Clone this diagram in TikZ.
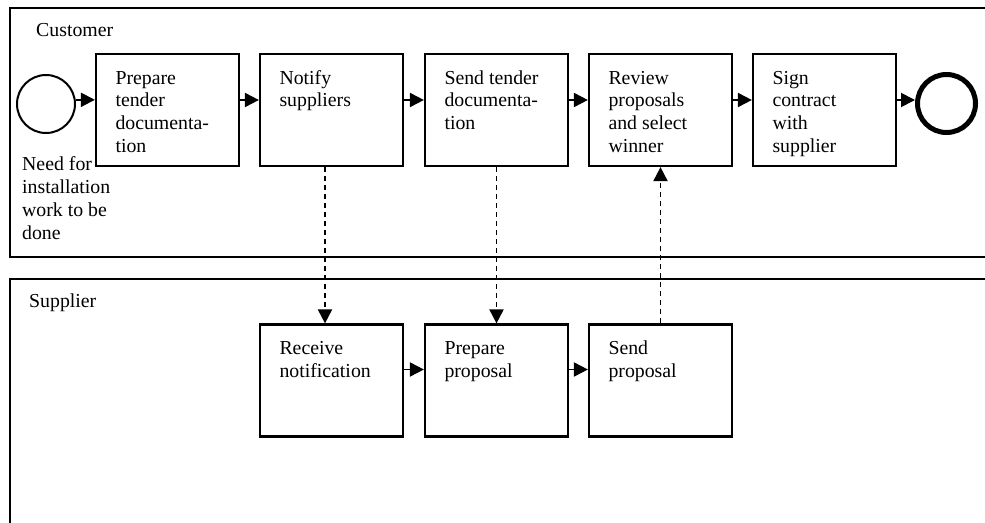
\documentclass[tikz,border=0pt]{standalone}
\usepackage{fontspec}
\setmainfont{Liberation Serif}
\usetikzlibrary{arrows.meta}
\newcommand{\tasktext}[1]{\parbox[c][112pt][t]{143pt}{\raggedright\leftskip=19.5pt\rule{0pt}{30pt}#1}}
\tikzset{
  task/.style={draw,line width=2.2pt,inner sep=0pt,minimum width=143pt,minimum height=112pt},
  flow/.style={line width=1.9pt,-{Triangle[length=14pt,width=14pt]}},
  msg/.style={flow,dash pattern=on 5pt off 4pt},
  lane/.style={line width=2.2pt},
}

\begin{document}
\begin{tikzpicture}[x=1pt,y=-1pt,font=\fontsize{19.8}{22.7}\selectfont]
\useasboundingbox (0,0) rectangle (985,522);
\clip (0,0) rectangle (985,522);

\draw[lane] (10,8) rectangle (1000,257);
\draw[lane] (10,279) rectangle (1000,540);
\node[anchor=base west,inner sep=0pt] (v12) at (36,36) {Customer};
\node[anchor=base west,inner sep=0pt] (v13) at (29,307) {Supplier};

\node[draw,circle,line width=2pt,minimum size=58pt,inner sep=0pt] (v1) at (46,104) {};
\node[anchor=base west,align=left,inner sep=0pt] (v11) at (22,239) {Need for\\installation\\work to be\\done};
\node[task] (v2) at (167.5,110) {\tasktext{Prepare\\tender\\documenta-\\tion}};
\node[task] (v3) at (331.5,110) {\tasktext{Notify\\suppliers}};
\node[task] (v4) at (496.5,110) {\tasktext{Send tender\\documenta-\\tion}};
\node[task] (v5) at (660.5,110) {\tasktext{Review\\proposals\\and select\\winner}};
\node[task] (v6) at (824.5,110) {\tasktext{Sign\\contract\\with\\supplier}};
\node[draw,circle,line width=5pt,minimum size=58pt,inner sep=0pt] (v7) at (946.5,103.5) {};

\node[task] (v8) at (331.5,380.5) {\tasktext{Receive\\notification}};
\node[task] (v9) at (496.5,380.5) {\tasktext{Prepare\\proposal}};
\node[task] (v10) at (660.5,380.5) {\tasktext{Send\\proposal}};

\draw[flow] (v1.8) -- (v1.8 -| v2.west);
\draw[flow] ([yshift=10pt]v2.east) -- ([yshift=10pt]v3.west);
\draw[flow] ([yshift=10pt]v3.east) -- ([yshift=10pt]v4.west);
\draw[flow] ([yshift=10pt]v4.east) -- ([yshift=10pt]v5.west);
\draw[flow] ([yshift=10pt]v5.east) -- ([yshift=10pt]v6.west);
\draw[flow] ([yshift=10pt]v6.east) -- ([yshift=10pt]v6.east -| v7.west);
\draw[flow] ([yshift=11pt]v8.east) -- ([yshift=11pt]v9.west);
\draw[flow] ([yshift=11pt]v9.east) -- ([yshift=11pt]v10.west);

\draw[msg] ([xshift=-6.5pt]v3.south) -- ([xshift=-6.5pt]v8.north);
\draw[msg] (v4.south) -- (v9.north);
\draw[msg] (v10.north) -- (v5.south);
\end{tikzpicture}
\end{document}
